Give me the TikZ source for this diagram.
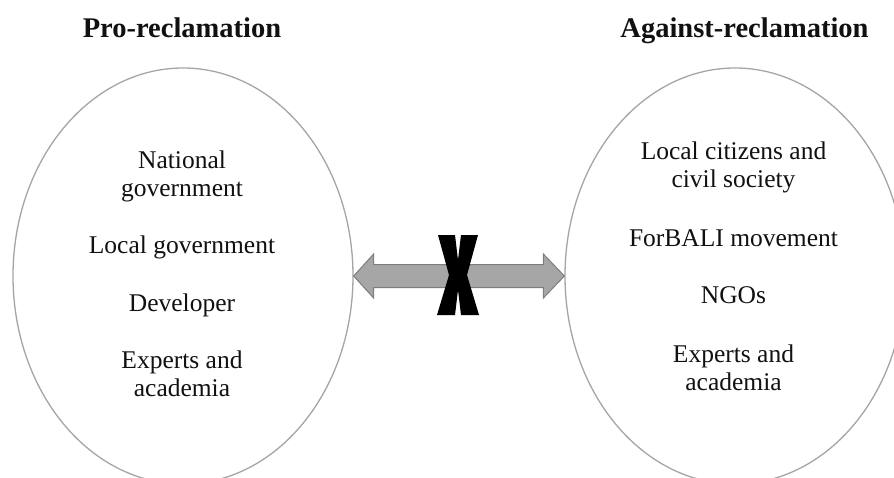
\documentclass[tikz,border=0pt]{standalone}
\usepackage{fontspec}
\setmainfont{Liberation Serif}
\usetikzlibrary{shapes.geometric,calc}

\definecolor{rimgray}{RGB}{165,165,165}
\definecolor{arrowfill}{RGB}{166,166,166}
\definecolor{arrowrim}{RGB}{125,125,125}
\definecolor{inkblack}{RGB}{17,17,17}

\tikzset{
  camp/.style={ellipse, draw=rimgray, line width=1.3pt, inner sep=0pt,
    minimum width=340pt, minimum height=416pt},
  heading/.style={font=\fontsize{28.5}{31}\selectfont\bfseries, text=inkblack,
    anchor=base, inner sep=0pt},
  actor/.style={font=\fontsize{25.5}{28}\selectfont, text=inkblack,
    align=center, anchor=north, inner sep=0pt},
  blockarrow/.style={fill=arrowfill, draw=arrowrim, line width=1pt, line join=miter},
}

\begin{document}
\begin{tikzpicture}[x=1pt,y=-1pt]
  \useasboundingbox (0,0) rectangle (894,477);
  \clip (0,0) rectangle (894,477);
  \fill[white] (0,0) rectangle (894,477);

  % the two camps
  \node[camp] (pro) at (183,276) {};
  \node[camp] (against) at (735,276) {};

  \node[heading] (prohead) at (182,37) {Pro-reclamation};
  \node[heading] (againsthead) at (744.5,37) {Against-reclamation};

  % actors in favour
  \node[actor] (natgov) at (182,148.4) {\strut National\\government};
  \node[actor] (locgov) at (182,233.4) {\strut Local government};
  \node[actor] (dev)    at (182,291.4) {\strut Developer};
  \node[actor] (expL)   at (182,348.4) {\strut Experts and\\academia};

  % actors against
  \node[actor] (citz)   at (733.5,139.4) {\strut Local citizens and\\civil society};
  \node[actor] (forbali) at (733.5,226.4) {\strut ForBALI movement};
  \node[actor] (ngo)    at (733.5,283.4) {\strut NGOs};
  \node[actor] (expR)   at (733.5,342.4) {\strut Experts and\\academia};

  % double-headed block arrow between the camps
  \coordinate (L) at (pro.east);
  \coordinate (R) at (against.west);
  \draw[blockarrow] (L) -- ($(L)+(20,-22)$) -- ($(L)+(20,-11.5)$)
    -- ($(R)+(-21,-11.5)$) -- ($(R)+(-21,-22)$) -- (R)
    -- ($(R)+(-21,22)$) -- ($(R)+(-21,11.5)$)
    -- ($(L)+(20,11.5)$) -- ($(L)+(20,22)$) -- cycle;

  % the cross over the arrow
  \coordinate (M) at ($(L)!0.5!(R)+(-1,-1)$);
  \fill[black] ($(M)+(-20,-40)$) -- ($(M)+(-3,-40)$) -- ($(M)+(0,-15)$)
    -- ($(M)+(3,-40)$) -- ($(M)+(20,-40)$) -- ($(M)+(9,0)$)
    -- ($(M)+(21,40)$) -- ($(M)+(3,40)$) -- ($(M)+(0,15)$)
    -- ($(M)+(-3,40)$) -- ($(M)+(-21,40)$) -- ($(M)+(-9,0)$) -- cycle;
\end{tikzpicture}
\end{document}
